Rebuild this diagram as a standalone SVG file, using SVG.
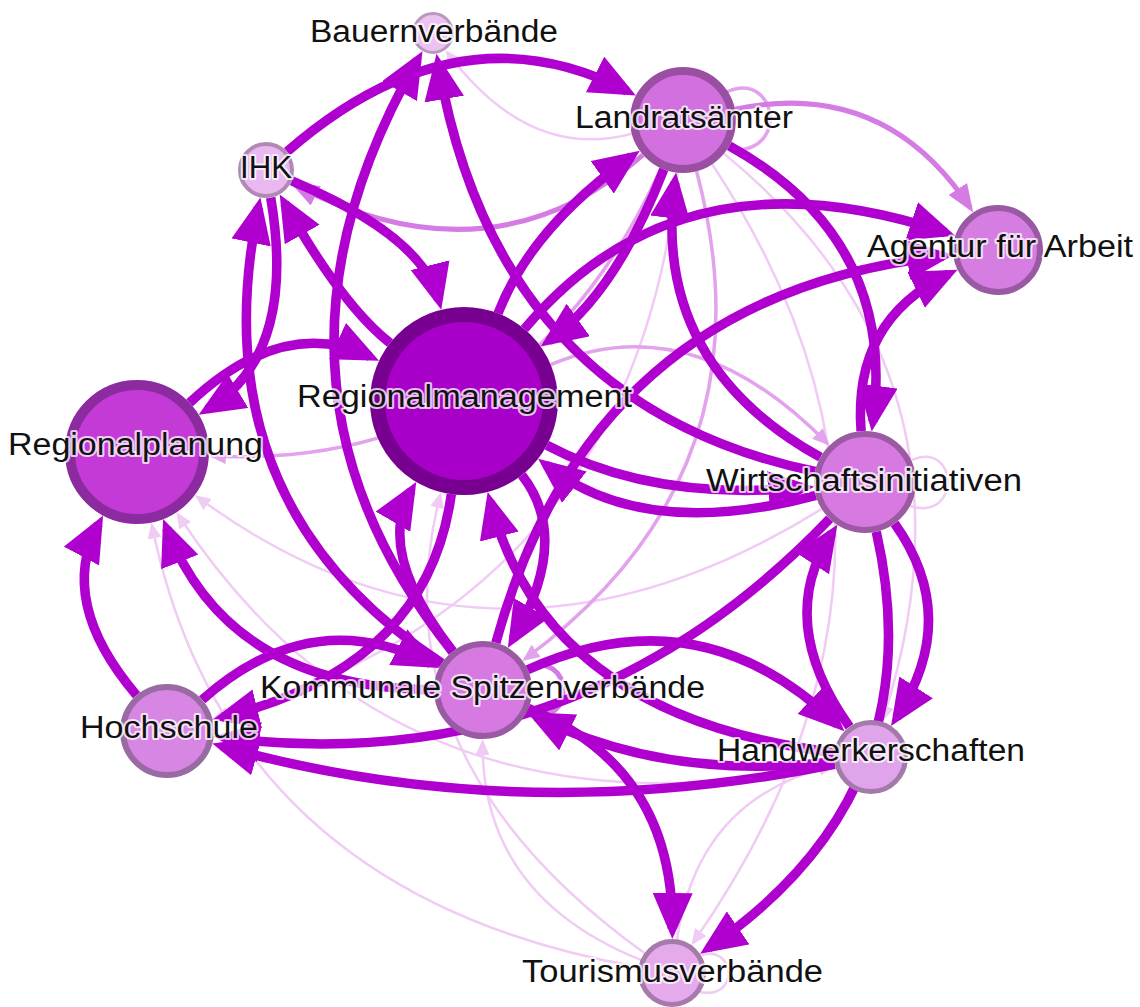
<svg xmlns="http://www.w3.org/2000/svg" width="1140" height="1007" viewBox="0 0 1140 1007">
  <style>
    .e { fill: none; }
    .t { stroke: #b000d0; stroke-width: 9.5; marker-end: url(#at); }
    .m { stroke: #d47ce4; stroke-width: 5; marker-end: url(#am); }
    .l1 { stroke: #e2a2ec; stroke-width: 3.5; marker-end: url(#al1); }
    .l2 { stroke: #f0ccf5; stroke-width: 2.5; marker-end: url(#al2); }
    .loop1 { fill: none; stroke: #e2a2ec; stroke-width: 3.5; }
    .loop2 { fill: none; stroke: #f0ccf5; stroke-width: 2.5; }
    .loopm { fill: none; stroke: #d47ce4; stroke-width: 5; }
    text { font-family: "Liberation Sans", Arial, sans-serif; font-size: 31px; fill: #111;
           stroke: #ffffff; stroke-opacity: 0.75; stroke-width: 4; stroke-linejoin: round; paint-order: stroke; }
  </style>
  <defs>
    <marker id="at" markerUnits="userSpaceOnUse" markerWidth="46" markerHeight="40" viewBox="0 0 46 40" refX="36" refY="20" orient="auto">
      <path d="M0,0 L46,20 L0,40 z" fill="#b000d0"/>
    </marker>
    <marker id="am" markerUnits="userSpaceOnUse" markerWidth="28" markerHeight="22" viewBox="0 0 28 22" refX="23" refY="11" orient="auto">
      <path d="M0,0 L28,11 L0,22 z" fill="#d47ce4"/>
    </marker>
    <marker id="al1" markerUnits="userSpaceOnUse" markerWidth="17" markerHeight="15" viewBox="0 0 17 15" refX="14" refY="7.5" orient="auto">
      <path d="M0,0 L17,7.5 L0,15 z" fill="#e2a2ec"/>
    </marker>
    <marker id="al2" markerUnits="userSpaceOnUse" markerWidth="16" markerHeight="14" viewBox="0 0 16 14" refX="13" refY="7" orient="auto">
      <path d="M0,0 L16,7 L0,14 z" fill="#f0ccf5"/>
    </marker>
  </defs>

  <g id="edges">
    <!-- faint links -->
    <path class="e l2" d="M631.8,133.7 Q528.4,161.5 447.3,52.3"/>
    <path class="e l2" d="M677.5,172.7 Q632.7,600.9 215.2,717.6"/>
    <path class="e l2" d="M712.2,164.2 Q967.5,550.2 693.2,942.6"/>
    <path class="e l2" d="M724,153.6 Q993.6,374.6 883.2,719"/>
    <path class="e l2" d="M677,939.4 Q698.1,797.3 832.1,766.1"/>
    <path class="e l2" d="M638.5,967.1 Q227.4,894.4 152,525.5"/>
    <path class="e l2" d="M641.5,960.2 Q481.3,895.8 482.6,742"/>
    <path class="e l2" d="M821.7,508.9 Q490.8,714.5 197.2,496.7"/>
    <path class="e l2" d="M834.8,764.5 Q400.3,854.1 178.1,514.8"/>
    <path class="e l2" d="M644.4,953.1 Q373.5,757.7 440.2,495"/>
    <path class="e l1" d="M661.1,168.2 Q522.9,471.6 211.9,455.9"/>
    <path class="e l1" d="M550.7,364.6 Q692,305.2 827.3,443.4"/>
    <path class="e l1" d="M696.6,171.2 Q776.8,473 524.8,659.1"/>
    <path class="loop1" d="M727,92 C775,70 790,150 735,150"/>
    <path class="loop2" d="M912,460 C958,440 962,522 910,506"/>
    <path class="loop2" d="M702,955 C735,945 740,1000 700,992"/>

    <!-- medium links -->
    <path class="e m" d="M734.9,109.2 Q884.7,77.9 970.5,208.2"/>
    <path class="e m" d="M643,154.8 Q491.5,286.8 295.3,185.2"/>
    <path class="loopm" d="M528,668 C572,650 578,728 527,714"/>

    <!-- strong links -->
    <path class="e t" d="M287.1,151.6 Q457.5,3.2 627,91"/>
    <path class="e t" d="M729.3,145.8 Q897.1,239.1 873,421.6"/>
    <path class="e t" d="M820.4,457.2 Q650.9,362.9 674.8,182.4"/>
    <path class="e t" d="M498,313.4 Q531.3,227.6 631.6,156.5"/>
    <path class="e t" d="M663.8,169.4 Q615.7,293.4 548.9,340.8"/>
    <path class="e t" d="M524.4,329 Q679.7,143.9 945.8,232.6"/>
    <path class="e t" d="M495.9,642.7 Q590.9,294.9 943.4,256"/>
    <path class="e t" d="M861.1,431.2 Q852.6,320.8 948.5,274.1"/>
    <path class="e t" d="M291.8,180.9 Q422.75,236 438.8,300.1"/>
    <path class="e t" d="M390,343 Q341.9,305.3 284.6,203.1"/>
    <path class="e t" d="M189.6,402.8 Q283.2,315.3 370,356.5"/>
    <path class="e t" d="M270.7,197.6 Q297.4,354.9 207.2,409.5"/>
    <path class="e t" d="M442,663.2 Q197.7,503.8 258.4,207.2"/>
    <path class="e t" d="M452.5,651.7 Q234.6,378.5 417.5,59.9"/>
    <path class="e t" d="M815.1,471.5 Q496.3,404.4 438.2,63.6"/>
    <path class="e t" d="M136.5,695.2 Q57.1,601.7 98.4,524.3"/>
    <path class="e t" d="M434,689.7 Q229.1,688.6 166.7,528.4"/>
    <path class="e t" d="M202.2,699.8 Q311.1,603.1 430.4,663.4"/>
    <path class="e t" d="M451.3,494.1 Q427.7,667 222.3,717.4"/>
    <path class="e t" d="M452.8,651.4 Q375.2,552 411.2,490.6"/>
    <path class="e t" d="M521.9,475.1 Q571.8,539 512.9,639.2"/>
    <path class="e t" d="M834.3,752.5 Q546.5,717.4 490.2,501.7"/>
    <path class="e t" d="M527.6,669.8 Q699.8,591.6 837.2,724.4"/>
    <path class="e t" d="M894.6,523.6 Q961.5,617.5 896.5,717.6"/>
    <path class="e t" d="M849.5,726.8 Q774.5,621.5 831.9,533.2"/>
    <path class="e t" d="M876.3,531.7 Q935.5,793 708.4,948.2"/>
    <path class="e t" d="M528.4,708.4 Q673.7,767.2 672.4,929"/>
    <path class="e t" d="M829.7,518.8 Q578.25,781 223.6,737.8"/>
    <path class="e t" d="M834.7,764.3 Q515.9,828.5 221.9,746.3"/>
    <path class="e t" d="M815.8,495.3 Q644.25,541.75 546,465"/>
    <path class="e t" d="M546.9,445.3 Q652.35,501.65 804.2,487.6"/>
    <path class="e t" d="M834.3,761.4 Q667,781.7 535.9,716.4"/>
  </g>

  <g id="n-bauernverbaende">
    <circle cx="433" cy="33" r="19.5" fill="#ecc2f2" stroke="#b898bd" stroke-width="3"/>
  </g>
  <g id="n-landratsaemter">
    <circle cx="683" cy="120" r="49" fill="#d270e0" stroke="#9b4fa3" stroke-width="8"/>
  </g>
  <g id="n-ihk">
    <circle cx="266" cy="170" r="26" fill="#e8b8ef" stroke="#b08ab5" stroke-width="4"/>
  </g>
  <g id="n-agentur">
    <circle cx="998" cy="250" r="42" fill="#d67de2" stroke="#9a5aa3" stroke-width="6"/>
  </g>
  <g id="n-regionalmanagement">
    <circle cx="464" cy="401" r="86.5" fill="#a800c8" stroke="#780090" stroke-width="15"/>
  </g>
  <g id="n-regionalplanung">
    <circle cx="137" cy="452" r="67" fill="#c43ad6" stroke="#8c2aa0" stroke-width="10"/>
  </g>
  <g id="n-wirtschaftsinitiativen">
    <circle cx="865" cy="482" r="48" fill="#d67ae2" stroke="#9c5aa3" stroke-width="6"/>
  </g>
  <g id="n-kommunale">
    <circle cx="483" cy="690" r="46" fill="#d67ae2" stroke="#9a5aa3" stroke-width="6"/>
  </g>
  <g id="n-hochschule">
    <circle cx="167" cy="731" r="44" fill="#d886e4" stroke="#9a6aa3" stroke-width="6"/>
  </g>
  <g id="n-handwerkerschaften">
    <circle cx="871" cy="757" r="34.5" fill="#e0a4ea" stroke="#a47aaa" stroke-width="5"/>
  </g>
  <g id="n-tourismusverbaende">
    <circle cx="672" cy="973" r="31.5" fill="#e4aaec" stroke="#a67aab" stroke-width="5"/>
  </g>

  <g id="labels">
    <text x="310" y="42" textLength="248" lengthAdjust="spacingAndGlyphs">Bauernverbände</text>
    <text x="575" y="128" textLength="218" lengthAdjust="spacingAndGlyphs">Landratsämter</text>
    <text x="240" y="178" textLength="52" lengthAdjust="spacingAndGlyphs">IHK</text>
    <text x="867" y="257" textLength="266" lengthAdjust="spacingAndGlyphs">Agentur für Arbeit</text>
    <text x="297" y="407" textLength="335" lengthAdjust="spacingAndGlyphs">Regionalmanagement</text>
    <text x="8" y="455" textLength="255" lengthAdjust="spacingAndGlyphs">Regionalplanung</text>
    <text x="706" y="491" textLength="316" lengthAdjust="spacingAndGlyphs">Wirtschaftsinitiativen</text>
    <text x="260" y="698" textLength="445" lengthAdjust="spacingAndGlyphs">Kommunale Spitzenverbände</text>
    <text x="80" y="738" textLength="178" lengthAdjust="spacingAndGlyphs">Hochschule</text>
    <text x="717" y="761" textLength="308" lengthAdjust="spacingAndGlyphs">Handwerkerschaften</text>
    <text x="522" y="982" textLength="301" lengthAdjust="spacingAndGlyphs">Tourismusverbände</text>
  </g>
</svg>
